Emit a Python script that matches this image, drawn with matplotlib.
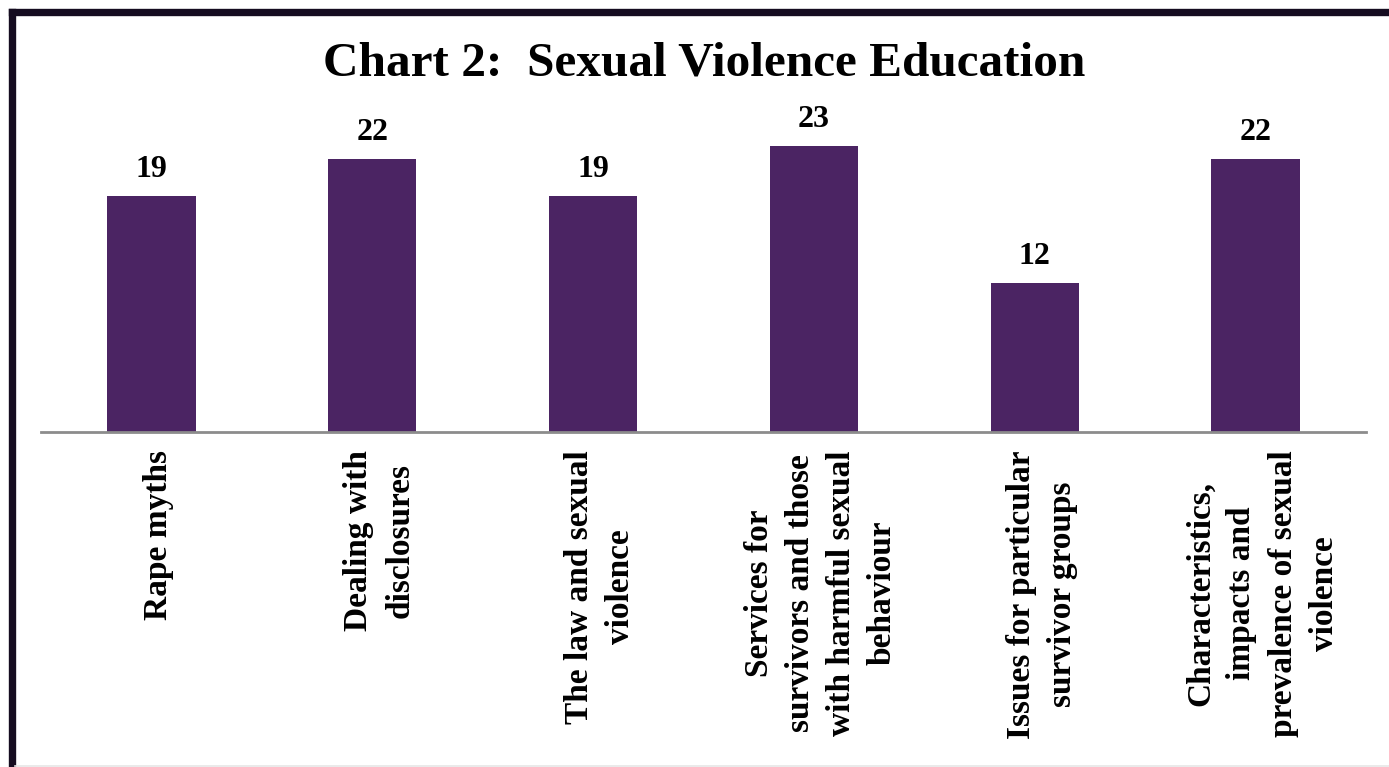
import matplotlib
matplotlib.use("Agg")
import matplotlib.pyplot as plt
from matplotlib.lines import Line2D

categories = [
    "Rape myths",
    "Dealing with\ndisclosures",
    "The law and sexual\nviolence",
    "Services for\nsurvivors and those\nwith harmful sexual\nbehaviour",
    "Issues for particular\nsurvivor groups",
    "Characteristics,\nimpacts and\nprevalence of sexual\nviolence",
]
values = [19, 22, 19, 23, 12, 22]
title = "Chart 2:  Sexual Violence Education"

W, H, DPI = 1389, 767, 100
fig = plt.figure(figsize=(W / DPI, H / DPI), dpi=DPI)
fig.patch.set_facecolor("white")

# plot area in pixel terms -> figure fractions
left_px, right_px = 41, 1366
base_px = 432
unit_px = 12.43
ymax = 25
top_px = base_px - ymax * unit_px
ax = fig.add_axes([left_px / W, 1 - base_px / H, (right_px - left_px) / W, (base_px - top_px) / H])

x = range(len(values))
ax.bar(x, values, width=0.4, color="#4b2463", zorder=2)
ax.set_xlim(-0.5, len(values) - 0.5)
ax.set_ylim(0, ymax)

for s in ["top", "right", "left"]:
    ax.spines[s].set_visible(False)
ax.spines["bottom"].set_color("#8c8c8c")
ax.spines["bottom"].set_linewidth(2)
ax.set_yticks([])
ax.set_xticks(list(x))
ax.set_xticklabels([])
ax.tick_params(axis="x", length=0)

serif = ["Liberation Serif", "DejaVu Serif"]
for i, (cat, v) in enumerate(zip(categories, values)):
    ax.annotate(f"{v}", xy=(i, v), xycoords="data", xytext=(0, 13.7),
                textcoords="offset points", ha="center", va="baseline",
                fontsize=23, fontweight="bold", family=serif, color="black")
    ax.annotate(cat, xy=(i, 0), xycoords="data", xytext=(5, -13),
                textcoords="offset points", rotation=90, ha="center", va="top",
                multialignment="center", fontsize=24, fontweight="bold",
                family=serif, color="black", linespacing=1.42)

fig.text(704 / W, 1 - 64 / H, title, ha="center", va="center", fontsize=35.5,
         fontweight="bold", family=serif, color="black")

# outer frame: heavy top and left edges, faint bottom edge
frame = "#150c20"
fig.add_artist(Line2D([11.5 / W, 1.0], [1 - 11.5 / H, 1 - 11.5 / H], color=frame,
                      linewidth=5.3, transform=fig.transFigure, solid_capstyle="projecting"))
fig.add_artist(Line2D([11.5 / W, 11.5 / W], [1 - 11.5 / H, 0.0], color=frame,
                      linewidth=5.3, transform=fig.transFigure, solid_capstyle="projecting"))
fig.add_artist(Line2D([15 / W, 1.0], [1 - 766 / H, 1 - 766 / H], color="#e6e6e6",
                      linewidth=1.2, transform=fig.transFigure))

fig.savefig("out.png", dpi=DPI, facecolor="white")
